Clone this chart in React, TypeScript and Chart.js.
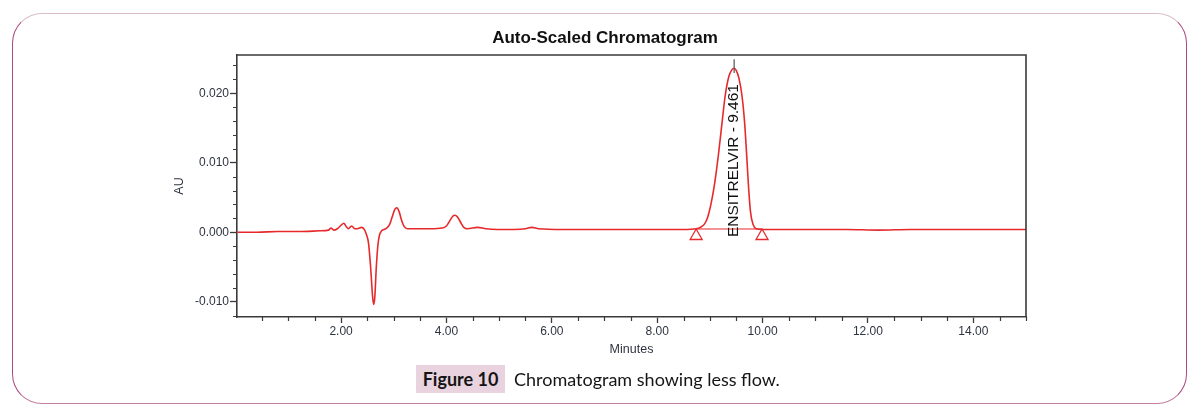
import React, { useEffect, useRef } from "react";
import { Chart, registerables } from "chart.js";

Chart.register(...registerables);

// ---- Data ----
const retentionTime = [
  0.03, 0.4, 0.8, 1.2, 1.6, 1.76, 1.81, 1.86, 1.93, 2.0, 2.05, 2.1, 2.14, 2.2, 2.26, 2.31, 2.39, 2.44,
  2.48, 2.52, 2.56, 2.6, 2.62, 2.64, 2.67, 2.7, 2.73, 2.77, 2.85, 2.92, 2.97, 3.02, 3.06, 3.1, 3.15,
  3.2, 3.26, 3.4, 3.7, 3.92, 4.0, 4.06, 4.12, 4.16, 4.21, 4.27, 4.33, 4.4, 4.59, 4.75, 4.97, 5.29,
  5.5, 5.62, 5.75, 6.2, 6.8, 7.4, 8.0, 8.5, 8.74, 8.82, 8.9, 8.96, 9.02, 9.09, 9.16, 9.23, 9.29,
  9.36, 9.42, 9.46, 9.5, 9.55, 9.61, 9.66, 9.7, 9.73, 9.77, 9.82, 9.88, 9.99, 10.5, 11.0, 11.6,
  12.2, 12.8, 13.4, 14.0, 14.6, 15.0,
];
const absorbanceAU = [
  0.0, 0.0, 0.0001, 0.0001, 0.0002, 0.0003, 0.0006, 0.0003, 0.0005, 0.001, 0.0013, 0.0008, 0.0005,
  0.0009, 0.0005, 0.0005, 0.0007, 0.0004, -0.0003, -0.0015, -0.0049, -0.0094, -0.0104, -0.0094,
  -0.0049, -0.0018, -0.0004, 0.0002, 0.0005, 0.0011, 0.0022, 0.0033, 0.0035, 0.003, 0.0017, 0.0008,
  0.0005, 0.0005, 0.0005, 0.0006, 0.0009, 0.0016, 0.0023, 0.00245, 0.0022, 0.0014, 0.0007, 0.0005,
  0.0007, 0.0005, 0.0004, 0.0004, 0.0005, 0.0007, 0.0005, 0.0004, 0.0004, 0.0004, 0.0004, 0.0004,
  0.0005, 0.0007, 0.0012, 0.0022, 0.004, 0.007, 0.011, 0.0157, 0.0196, 0.0224, 0.0234, 0.0236,
  0.0233, 0.0222, 0.0196, 0.0157, 0.0109, 0.007, 0.003, 0.0011, 0.0005, 0.0004, 0.0004, 0.0004,
  0.0004, 0.0003, 0.0004, 0.0004, 0.0004, 0.0004, 0.0004,
];

const xMajorTicks = [2, 4, 6, 8, 10, 12, 14];
const xMinorTicks = [
  0.5, 1, 1.5, 2.5, 3, 3.5, 4.5, 5, 5.5, 6.5, 7, 7.5, 8.5, 9, 9.5, 10.5, 11, 11.5, 12.5, 13, 13.5,
  14.5, 15,
];
const yMajorTicks = [-0.01, 0, 0.01, 0.02];
const yMinorTicks = [
  -0.012, -0.008, -0.006, -0.004, -0.002, 0.002, 0.004, 0.006, 0.008, 0.012, 0.014, 0.016, 0.018,
  0.022, 0.024,
];

const peakName = "ENSITRELVIR";
const peakRetention = 9.461;
const peakMarkerAU = [0.0249, 0.0229];
const peakLabelStartAU = -0.0007;
const integrationTimes = [8.74, 9.99];
const integrationBaselineAU = [0.00046, 0.00046];

const RED = "#e62a2c";
const AXIS = "#3a3a3a";
const LABEL = "#2e3440";
const FONT = '"Liberation Sans", Arial, sans-serif';

const overlayPlugin = {
  id: "chromOverlay",
  afterDatasetsDraw(chart: any) {
    const { ctx, chartArea: a, scales } = chart;
    const x = scales.x;
    const y = scales.y;
    ctx.save();
    // frame (top + right)
    ctx.strokeStyle = AXIS;
    ctx.lineWidth = 1.6;
    ctx.beginPath();
    ctx.moveTo(a.left, a.top);
    ctx.lineTo(a.right, a.top);
    ctx.lineTo(a.right, a.bottom);
    ctx.stroke();
    // minor ticks
    ctx.lineWidth = 1.2;
    ctx.beginPath();
    for (const v of xMinorTicks) {
      const px = Math.round(x.getPixelForValue(v)) + 0.5;
      ctx.moveTo(px, a.bottom);
      ctx.lineTo(px, a.bottom + 4);
    }
    for (const v of yMinorTicks) {
      const py = Math.round(y.getPixelForValue(v)) + 0.5;
      ctx.moveTo(a.left, py);
      ctx.lineTo(a.left - 4, py);
    }
    ctx.stroke();
    // integration markers
    ctx.strokeStyle = RED;
    ctx.lineWidth = 1.3;
    integrationTimes.forEach((t, i) => {
      const px = x.getPixelForValue(t);
      const py = y.getPixelForValue(integrationBaselineAU[i]);
      ctx.beginPath();
      ctx.moveTo(px, py);
      ctx.lineTo(px - 6, py + 10.5);
      ctx.lineTo(px + 6, py + 10.5);
      ctx.closePath();
      ctx.stroke();
    });
    // apex marker
    const mx = x.getPixelForValue(peakRetention);
    ctx.strokeStyle = "#555";
    ctx.lineWidth = 1.2;
    ctx.beginPath();
    ctx.moveTo(mx, y.getPixelForValue(peakMarkerAU[0]));
    ctx.lineTo(mx, y.getPixelForValue(peakMarkerAU[1]));
    ctx.stroke();
    // peak label
    ctx.translate(mx, y.getPixelForValue(peakLabelStartAU));
    ctx.rotate(-Math.PI / 2);
    ctx.font = `15.5px ${FONT}`;
    ctx.fillStyle = "#111";
    ctx.textAlign = "left";
    ctx.textBaseline = "middle";
    ctx.fillText(`${peakName} - ${peakRetention.toFixed(3)}`, 0, 0);
    ctx.restore();
  },
};

export default function App() {
  const canvasRef = useRef<HTMLCanvasElement | null>(null);

  useEffect(() => {
    if (!canvasRef.current) return;
    const chart = new Chart(canvasRef.current, {
      type: "line",
      data: {
        datasets: [
          {
            data: retentionTime.map((t, i) => ({ x: t, y: absorbanceAU[i] })),
            borderColor: RED,
            borderWidth: 1.6,
            pointRadius: 0,
            cubicInterpolationMode: "monotone",
            fill: false,
          },
          {
            data: integrationTimes.map((t, i) => ({ x: t, y: integrationBaselineAU[i] })),
            borderColor: RED,
            borderWidth: 1.2,
            pointRadius: 0,
            fill: false,
          },
        ],
      },
      options: {
        responsive: false,
        animation: false,
        events: [],
        layout: { padding: 0 },
        plugins: {
          legend: { display: false },
          tooltip: { enabled: false },
          title: {
            display: true,
            text: "Auto-Scaled Chromatogram",
            color: "#111",
            font: { family: FONT, size: 17, weight: "bold" },
            padding: { top: 28, bottom: 6.6 },
          },
        },
        scales: {
          x: {
            type: "linear",
            min: 0.025,
            max: 15.0,
            afterBuildTicks: (s: any) => {
              s.ticks = xMajorTicks.map((v) => ({ value: v }));
            },
            afterFit: (s: any) => {
              s.height = 97;
            },
            grid: {
              drawOnChartArea: false,
              drawTicks: true,
              tickLength: 6,
              tickColor: AXIS,
              tickWidth: 1.3,
            },
            border: { display: true, color: AXIS, width: 1.6 },
            ticks: {
              autoSkip: false,
              maxRotation: 0,
              padding: 1.5,
              color: LABEL,
              font: { family: FONT, size: 12 },
              callback: (v: any) => Number(v).toFixed(2),
            },
            title: {
              display: true,
              text: "Minutes",
              color: LABEL,
              font: { family: FONT, size: 12.5 },
              padding: { top: 0, bottom: 57 },
            },
          },
          y: {
            type: "linear",
            min: -0.0122,
            max: 0.0255,
            afterBuildTicks: (s: any) => {
              s.ticks = yMajorTicks.map((v) => ({ value: v }));
            },
            afterFit: (s: any) => {
              s.width = 223;
            },
            grid: {
              drawOnChartArea: false,
              drawTicks: true,
              tickLength: 7,
              tickColor: AXIS,
              tickWidth: 1.3,
            },
            border: { display: true, color: AXIS, width: 1.6 },
            ticks: {
              autoSkip: false,
              padding: 1,
              color: LABEL,
              font: { family: FONT, size: 12 },
              callback: (v: any) => Number(v).toFixed(3),
            },
            title: {
              display: true,
              text: "AU",
              color: LABEL,
              font: { family: FONT, size: 12.5 },
              padding: { top: 158.5, bottom: 0 },
            },
          },
          yRightSpace: {
            type: "linear",
            position: "right",
            display: true,
            grid: { display: false, drawTicks: false },
            border: { display: false },
            ticks: { display: false },
            afterFit: (s: any) => {
              s.width = 170;
            },
          },
        },
      },
      plugins: [overlayPlugin],
    } as any);
    return () => chart.destroy();
  }, []);

  return (
    <div
      style={{
        position: "absolute",
        left: 0,
        top: 0,
        width: 1196,
        height: 414,
        background: "#fff",
        overflow: "hidden",
      }}
    >
      <div
        style={{
          position: "absolute",
          left: 12,
          top: 13,
          width: 1175,
          height: 391,
          boxSizing: "border-box",
          borderStyle: "solid",
          borderWidth: 1.5,
          borderTopColor: "#dbbdc6",
          borderLeftColor: "#a94b80",
          borderRightColor: "#a94b80",
          borderBottomColor: "#c27f9f",
          borderRadius: 30,
        }}
      />
      <canvas
        ref={canvasRef}
        width={1182}
        height={414}
        style={{ position: "absolute", left: 14, top: 0, width: 1182, height: 414 }}
      />
      <div
        style={{
          position: "absolute",
          left: 416,
          top: 365,
          width: 89,
          height: 28,
          background: "#e9d3df",
          fontFamily: "Lato, sans-serif",
          fontWeight: 700,
          fontSize: 18,
          lineHeight: "28px",
          textAlign: "center",
          color: "#151515",
        }}
      >
        Figure 10
      </div>
      <div
        style={{
          position: "absolute",
          left: 514,
          top: 365,
          height: 28,
          fontFamily: "Lato, sans-serif",
          fontSize: 18,
          lineHeight: "28px",
          color: "#151515",
          whiteSpace: "nowrap",
        }}
      >
        Chromatogram showing less flow.
      </div>
    </div>
  );
}
